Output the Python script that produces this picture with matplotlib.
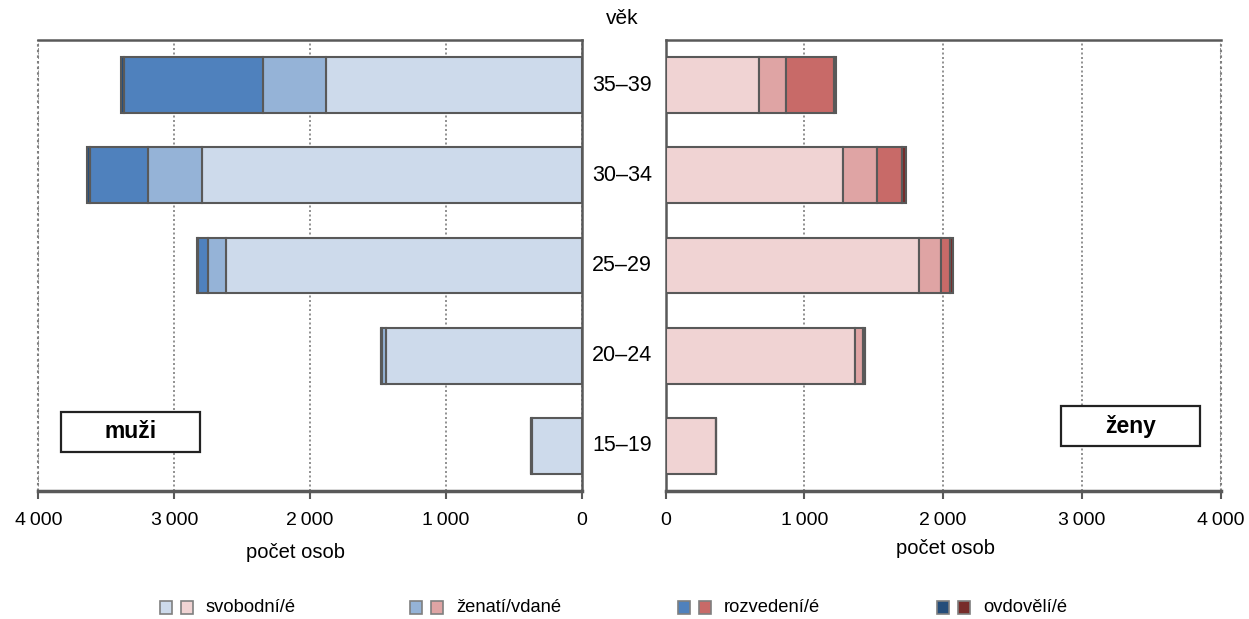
import matplotlib
matplotlib.use("Agg")
import matplotlib.pyplot as plt
from matplotlib.patches import Rectangle
from matplotlib.ticker import FixedLocator

plt.rcParams['font.family'] = ['Liberation Sans', 'DejaVu Sans']

# ---- data ----
age_groups = ["15–19", "20–24", "25–29", "30–34", "35–39"]
status_labels = ["svobodní/é", "ženatí/vdané", "rozvedení/é", "ovdovělí/é"]

men_single   = [370, 1440, 2620, 2795, 1880]
men_married  = [5, 35, 130, 395, 465]
men_divorced = [0, 5, 75, 430, 1025]
men_widowed  = [0, 2, 5, 20, 25]

women_single   = [360, 1365, 1830, 1280, 670]
women_married  = [5, 55, 155, 245, 200]
women_divorced = [0, 15, 65, 180, 345]
women_widowed  = [0, 5, 20, 25, 15]

x_ticks = [0, 1000, 2000, 3000, 4000]
x_tick_labels = ["0", "1\u2009000", "2\u2009000", "3\u2009000", "4\u2009000"]

men_colors = ["#CDDAEB", "#95B3D7", "#4F81BD", "#254D7A"]
women_colors = ["#F0D3D3", "#DFA4A4", "#C86A68", "#772C2A"]
edge = "#595959"

W, H = 1249, 619
fig = plt.figure(figsize=(W / 100, H / 100), dpi=100)

def fx(x):
    return x / W

def fy(y):
    return 1 - y / H

top, bottom = 40, 491
axL = fig.add_axes([fx(38.3), fy(bottom), fx(582 - 38.3), (bottom - top) / H])
axR = fig.add_axes([fx(665.6), fy(bottom), fx(1220.5 - 665.6), (bottom - top) / H])

ypos = list(range(len(age_groups)))
bh = 0.62
for ax, series, colors in [
    (axL, [men_single, men_married, men_divorced, men_widowed], men_colors),
    (axR, [women_single, women_married, women_divorced, women_widowed], women_colors),
]:
    left = [0] * len(age_groups)
    for vals, c in zip(series, colors):
        ax.barh(ypos, vals, left=left, height=bh, color=c, edgecolor=edge,
                linewidth=1.5, zorder=3)
        left = [a + b for a, b in zip(left, vals)]
    ax.set_xlim(0, 4000)
    ax.set_ylim(-0.5, 4.5)
    ax.set_yticks([])
    ax.xaxis.set_major_locator(FixedLocator(x_ticks))
    ax.set_xticklabels(x_tick_labels, fontsize=14)
    ax.tick_params(axis='x', direction='out', length=6, width=1.5, color=edge, pad=9)
    ax.grid(axis='x', color='#7F7F7F', linestyle=(0, (1.2, 1.5)), linewidth=1.2, zorder=0)
    for s in ax.spines.values():
        s.set_color(edge)
        s.set_linewidth(1.8)
    ax.spines['bottom'].set_linewidth(2.5)

axL.invert_xaxis()
axL.spines['left'].set_visible(False)
axR.spines['right'].set_visible(False)
for ax in (axL, axR):
    ax.axvline(4000, color='#7F7F7F', linestyle=(0, (1.2, 1.5)), linewidth=1.5, zorder=0, clip_on=False)

# category labels between panels
for i, lab in enumerate(age_groups):
    fig.text(fx(622), fy(top + (4.5 - i) * (bottom - top) / 5), lab,
             ha='center', va='center', fontsize=15.5)
fig.text(fx(622), fy(18), "věk", ha='center', va='center', fontsize=15)

# axis titles
fig.text(fx(296), fy(552), "počet osob", ha='center', va='center', fontsize=14.5)
fig.text(fx(945), fy(549), "počet osob", ha='center', va='center', fontsize=14.5)

# boxes
for (x0, y0, txt) in [(61, 412, "muži"), (1061, 406, "ženy")]:
    fig.add_artist(Rectangle((fx(x0), fy(y0 + 40)), fx(139), 40 / H,
                             transform=fig.transFigure, facecolor='white',
                             edgecolor='#222222', linewidth=1.6))
    fig.text(fx(x0 + 69.5), fy(y0 + 20), txt, ha='center', va='center',
             fontsize=16.5, fontweight='bold')

# legend
for bx, lab, cm, cw in zip([160, 410, 678, 937], status_labels, men_colors, women_colors):
    for dx, c in [(0, cm), (21, cw)]:
        fig.add_artist(Rectangle((fx(bx + dx), fy(614)), fx(12), 13 / H,
                                 transform=fig.transFigure, facecolor=c,
                                 edgecolor='#7F7F7F', linewidth=1.2))
    fig.text(fx(bx + 46), fy(607), lab, ha='left', va='center', fontsize=13.2)

fig.savefig("out.png", dpi=100)
